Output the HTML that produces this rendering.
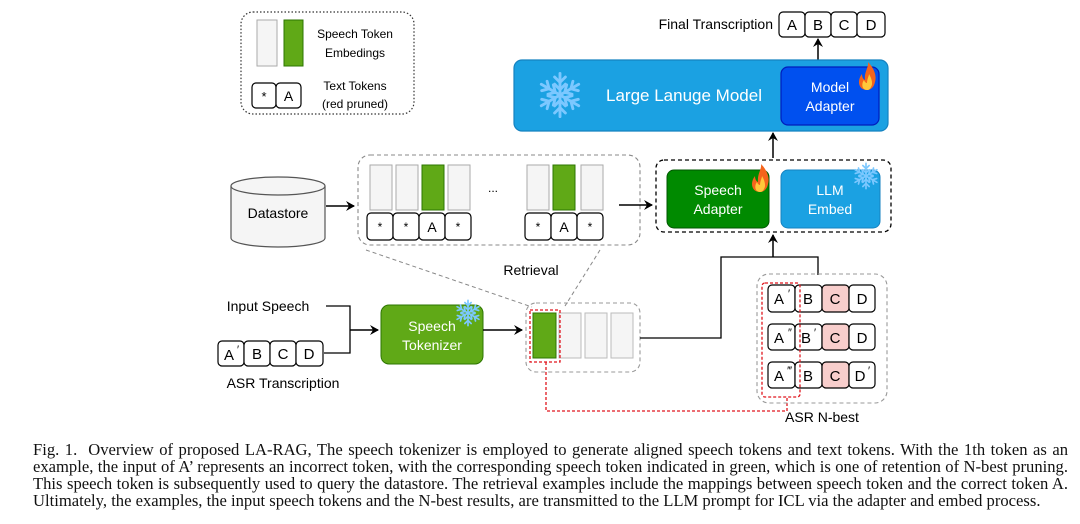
<!DOCTYPE html>
<html><head><meta charset="utf-8"><style>
html,body{margin:0;padding:0;background:#fff;width:1080px;height:524px;overflow:hidden;position:relative;}
svg{display:block;position:absolute;left:0;top:0;}
text{font-family:"Liberation Sans",Arial,sans-serif;}
.cap{position:absolute;left:33px;top:441px;width:1035px;font-family:"Liberation Serif","Times New Roman",serif;font-size:16.6px;line-height:17px;color:#111;margin:0;white-space:nowrap;}
.cap span{display:block;text-align:justify;text-align-last:justify;}
.cap span.l{text-align-last:left;}
</style></head><body>
<svg width="1080" height="524" viewBox="0 0 1080 524" xmlns="http://www.w3.org/2000/svg">
<defs>
<marker id="ar" markerWidth="10" markerHeight="10" refX="8" refY="5" orient="auto" markerUnits="userSpaceOnUse">
<path d="M0,0 L9,5 L0,10 L3,5 Z" fill="#000"/></marker>
<g id="flame">
<path d="M0,14 C-9,14 -10,4 -5,-2 C-5,3 -2,4 -2,4 C-3,-4 2,-9 1,-14 C7,-8 10,0 8,6 C7,11 4,14 0,14 Z" fill="#f4641c"/>
<path d="M0,14 C-5,14 -6,8 -3,4 C-2,7 0,7 0,7 C0,3 2,0 2,-2 C5,3 6,8 4,11 C3,13 2,14 0,14 Z" fill="#ffc83a"/>
</g>
<g id="snow" stroke="#7cc8ff" stroke-width="1.6" fill="none" stroke-linecap="round">
<g id="arm"><line x1="0" y1="0" x2="0" y2="-12"/><polyline points="-3,-10 0,-7 3,-10"/><polyline points="-3,-6 0,-3 3,-6"/></g>
<use href="#arm" transform="rotate(60)"/><use href="#arm" transform="rotate(120)"/><use href="#arm" transform="rotate(180)"/><use href="#arm" transform="rotate(240)"/><use href="#arm" transform="rotate(300)"/>
</g>
</defs>

<rect x="241" y="12" width="173" height="102" rx="12" fill="none" stroke="#333" stroke-width="1.2" stroke-dasharray="1.5,2"/>
<rect x="257" y="20" width="20" height="46" fill="#f5f5f5" stroke="#aaa"/>
<rect x="284" y="20" width="19" height="46" fill="#60a917" stroke="#2d7600"/>
<text x="355" y="38" font-size="12" text-anchor="middle">Speech Token</text>
<text x="355" y="57" font-size="12" text-anchor="middle">Embedings</text>
<rect x="252" y="83" width="24" height="25" rx="4" fill="#fff" stroke="#000" stroke-width="1.2"/>
<rect x="276" y="83" width="25" height="25" rx="4" fill="#fff" stroke="#000" stroke-width="1.2"/>
<text x="264" y="101" font-size="13" text-anchor="middle">*</text>
<text x="288.5" y="101" font-size="14" text-anchor="middle">A</text>
<text x="355" y="90" font-size="12" text-anchor="middle">Text Tokens</text>
<text x="355" y="108" font-size="12" text-anchor="middle">(red pruned)</text>

<text x="773" y="29" font-size="14" text-anchor="end">Final Transcription</text>
<g font-size="15" text-anchor="middle">
<rect x="779" y="12" width="26" height="25" rx="4" fill="#fff" stroke="#000" stroke-width="1.2"/><text x="792" y="30">A</text>
<rect x="805" y="12" width="26" height="25" rx="4" fill="#fff" stroke="#000" stroke-width="1.2"/><text x="818" y="30">B</text>
<rect x="831" y="12" width="26" height="25" rx="4" fill="#fff" stroke="#000" stroke-width="1.2"/><text x="844" y="30">C</text>
<rect x="857" y="12" width="28" height="25" rx="4" fill="#fff" stroke="#000" stroke-width="1.2"/><text x="871" y="30">D</text>
</g>
<line x1="818" y1="60" x2="818" y2="39" stroke="#000" stroke-width="1.5" marker-end="url(#ar)"/>

<rect x="514" y="60" width="374" height="71" rx="8" fill="#1ba1e2" stroke="#1582c0" stroke-width="1.2"/>
<g transform="translate(560,95) scale(1.8)"><use href="#snow"/></g>
<text x="684" y="101" font-size="17" fill="#fff" text-anchor="middle">Large Lanuge Model</text>
<rect x="781" y="67" width="98" height="58" rx="7" fill="#0050ef" stroke="#001dbc" stroke-width="1.2"/>
<text x="830" y="92" font-size="14" fill="#fff" text-anchor="middle">Model</text>
<text x="830" y="111" font-size="14" fill="#fff" text-anchor="middle">Adapter</text>
<use href="#flame" transform="translate(867,76)"/>

<line x1="773" y1="158" x2="773" y2="133" stroke="#000" stroke-width="1.5" marker-end="url(#ar)"/>

<rect x="656" y="160" width="235" height="72" rx="8" fill="none" stroke="#000" stroke-width="1.3" stroke-dasharray="4,3"/>
<rect x="667" y="170" width="102" height="58" rx="7" fill="#008a00" stroke="#005700"/>
<text x="718" y="195" font-size="14" fill="#fff" text-anchor="middle">Speech</text>
<text x="718" y="214" font-size="14" fill="#fff" text-anchor="middle">Adapter</text>
<use href="#flame" transform="translate(760,178)"/>
<rect x="781" y="170" width="99" height="58" rx="7" fill="#1ba1e2" stroke="#1582c0"/>
<text x="830" y="195" font-size="14" fill="#fff" text-anchor="middle">LLM</text>
<text x="830" y="214" font-size="14" fill="#fff" text-anchor="middle">Embed</text>
<g transform="translate(866,176) scale(1.05)"><use href="#snow"/></g>

<path d="M231,186 L231,238 A47,9 0 0 0 325,238 L325,186" fill="#f5f5f5" stroke="#555" stroke-width="1.2"/>
<ellipse cx="278" cy="186" rx="47" ry="9" fill="#f5f5f5" stroke="#555" stroke-width="1.2"/>
<text x="278" y="218" font-size="14" text-anchor="middle">Datastore</text>
<line x1="326" y1="206" x2="354" y2="206" stroke="#000" stroke-width="1.5" marker-end="url(#ar)"/>

<rect x="358" y="155" width="282" height="90" rx="12" fill="none" stroke="#888" stroke-width="1.1" stroke-dasharray="4,3"/>
<g stroke-width="1">
<rect x="370" y="165" width="22" height="45" fill="#f5f5f5" stroke="#aaa"/>
<rect x="396" y="165" width="22" height="45" fill="#f5f5f5" stroke="#aaa"/>
<rect x="422" y="165" width="22" height="45" fill="#60a917" stroke="#2d7600"/>
<rect x="448" y="165" width="22" height="45" fill="#f5f5f5" stroke="#aaa"/>
<rect x="527" y="165" width="22" height="45" fill="#f5f5f5" stroke="#aaa"/>
<rect x="553" y="165" width="22" height="45" fill="#60a917" stroke="#2d7600"/>
<rect x="581" y="165" width="22" height="45" fill="#f5f5f5" stroke="#aaa"/>
</g>
<text x="493" y="192" font-size="12" text-anchor="middle">...</text>
<g font-size="14" text-anchor="middle" stroke-width="1.2">
<rect x="367" y="213" width="26" height="27" rx="4" fill="#fff" stroke="#000"/><text x="380" y="231" font-size="12">*</text>
<rect x="393" y="213" width="26" height="27" rx="4" fill="#fff" stroke="#000"/><text x="406" y="231" font-size="12">*</text>
<rect x="419" y="213" width="26" height="27" rx="4" fill="#fff" stroke="#000"/><text x="432" y="232">A</text>
<rect x="445" y="213" width="26" height="27" rx="4" fill="#fff" stroke="#000"/><text x="458" y="231" font-size="12">*</text>
<rect x="525" y="213" width="26" height="27" rx="4" fill="#fff" stroke="#000"/><text x="538" y="231" font-size="12">*</text>
<rect x="551" y="213" width="26" height="27" rx="4" fill="#fff" stroke="#000"/><text x="564" y="232">A</text>
<rect x="577" y="213" width="26" height="27" rx="4" fill="#fff" stroke="#000"/><text x="590" y="231" font-size="12">*</text>
</g>
<text x="531" y="275" font-size="14" text-anchor="middle">Retrieval</text>
<line x1="619" y1="205" x2="652" y2="205" stroke="#000" stroke-width="1.5" marker-end="url(#ar)"/>
<line x1="366" y1="250" x2="532" y2="307" stroke="#888" stroke-width="1" stroke-dasharray="4,3"/>
<line x1="600" y1="250" x2="565" y2="306" stroke="#888" stroke-width="1" stroke-dasharray="4,3"/>

<text x="268" y="311" font-size="14" text-anchor="middle">Input Speech</text>
<polyline points="326,306 350,306 350,353 324,353" fill="none" stroke="#000" stroke-width="1.3"/>
<line x1="350" y1="330" x2="378" y2="330" stroke="#000" stroke-width="1.5" marker-end="url(#ar)"/>
<g font-size="15" text-anchor="middle" stroke-width="1.2">
<rect x="218" y="341" width="26" height="25" rx="4" fill="#fff" stroke="#000"/><text x="229" y="360">A</text><text x="238" y="353" font-size="11">′</text>
<rect x="244" y="341" width="26" height="25" rx="4" fill="#fff" stroke="#000"/><text x="257" y="359">B</text>
<rect x="270" y="341" width="26" height="25" rx="4" fill="#fff" stroke="#000"/><text x="283" y="359">C</text>
<rect x="296" y="341" width="27" height="25" rx="4" fill="#fff" stroke="#000"/><text x="309" y="359">D</text>
</g>
<text x="283" y="388" font-size="14" text-anchor="middle">ASR Transcription</text>

<rect x="381" y="305" width="102" height="59" rx="8" fill="#60a917" stroke="#2d7600"/>
<text x="432" y="331" font-size="14" fill="#fff" text-anchor="middle">Speech</text>
<text x="432" y="350" font-size="14" fill="#fff" text-anchor="middle">Tokenizer</text>
<g transform="translate(468,313) scale(1.05)"><use href="#snow"/></g>
<line x1="483" y1="330" x2="522" y2="330" stroke="#000" stroke-width="1.5" marker-end="url(#ar)"/>

<rect x="526" y="303" width="114" height="69" rx="10" fill="none" stroke="#999" stroke-width="1.1" stroke-dasharray="4,3"/>
<rect x="533" y="313" width="23" height="45" fill="#60a917" stroke="#2d7600"/>
<rect x="559" y="313" width="22" height="45" fill="#f5f5f5" stroke="#bbb"/>
<rect x="585" y="313" width="22" height="45" fill="#f5f5f5" stroke="#bbb"/>
<rect x="611" y="313" width="22" height="45" fill="#f5f5f5" stroke="#bbb"/>
<rect x="530" y="310" width="30" height="52" fill="none" stroke="#e0161e" stroke-width="1.3" stroke-dasharray="3,2"/>
<polyline points="546,362 546,411 787,411 787,397" fill="none" stroke="#e0161e" stroke-width="1.3" stroke-dasharray="3,2"/>

<polyline points="640,338 721,338 721,257 818,257 818,275" fill="none" stroke="#000" stroke-width="1.3"/>
<line x1="773" y1="257" x2="773" y2="235" stroke="#000" stroke-width="1.5" marker-end="url(#ar)"/>

<rect x="757" y="274" width="130" height="129" rx="12" fill="none" stroke="#999" stroke-width="1.1" stroke-dasharray="4,3"/>
<g font-size="15" text-anchor="middle" stroke-width="1.2">
<rect x="768" y="285" width="27" height="27" rx="4" fill="#fff" stroke="#000"/><text x="779" y="304">A</text><text x="789" y="297" font-size="11">′</text>
<rect x="795" y="285" width="27" height="27" rx="4" fill="#fff" stroke="#000"/><text x="808" y="304">B</text>
<rect x="822" y="285" width="27" height="27" rx="4" fill="#f8cecc" stroke="#000"/><text x="835" y="304">C</text>
<rect x="849" y="285" width="26" height="27" rx="4" fill="#fff" stroke="#000"/><text x="862" y="304">D</text>

<rect x="768" y="324" width="27" height="26" rx="4" fill="#fff" stroke="#000"/><text x="779" y="343">A</text><text x="790" y="336" font-size="11">″</text>
<rect x="795" y="324" width="27" height="26" rx="4" fill="#fff" stroke="#000"/><text x="806" y="343">B</text><text x="815" y="336" font-size="11">′</text>
<rect x="822" y="324" width="27" height="26" rx="4" fill="#f8cecc" stroke="#000"/><text x="835" y="343">C</text>
<rect x="849" y="324" width="26" height="26" rx="4" fill="#fff" stroke="#000"/><text x="862" y="343">D</text>

<rect x="768" y="362" width="27" height="26" rx="4" fill="#fff" stroke="#000"/><text x="779" y="381">A</text><text x="790" y="374" font-size="11">‴</text>
<rect x="795" y="362" width="27" height="26" rx="4" fill="#fff" stroke="#000"/><text x="808" y="381">B</text>
<rect x="822" y="362" width="27" height="26" rx="4" fill="#f8cecc" stroke="#000"/><text x="835" y="381">C</text>
<rect x="849" y="362" width="26" height="26" rx="4" fill="#fff" stroke="#000"/><text x="860" y="381">D</text><text x="869" y="374" font-size="11">′</text>
</g>
<rect x="762" y="283" width="38" height="114" rx="3" fill="none" stroke="#e0161e" stroke-width="1.3" stroke-dasharray="3,2"/>
<text x="822" y="422" font-size="14" text-anchor="middle">ASR N-best</text>
</svg>
<p class="cap"><span>Fig. 1.&nbsp; Overview of proposed LA-RAG, The speech tokenizer is employed to generate aligned speech tokens and text tokens. With the 1th token as an</span><span>example, the input of A’ represents an incorrect token, with the corresponding speech token indicated in green, which is one of retention of N-best pruning.</span><span>This speech token is subsequently used to query the datastore. The retrieval examples include the mappings between speech token and the correct token A.</span><span class="l">Ultimately, the examples, the input speech tokens and the N-best results, are transmitted to the LLM prompt for ICL via the adapter and embed process.</span></p>
</body></html>
